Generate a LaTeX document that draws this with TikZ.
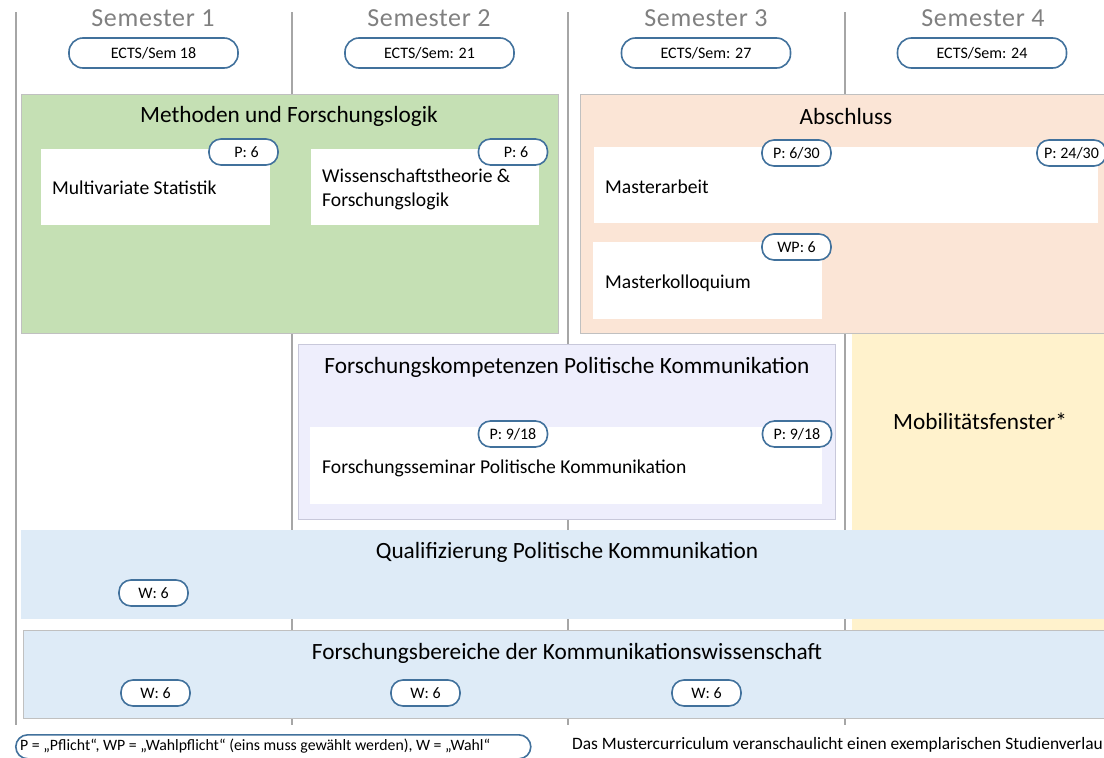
\documentclass[tikz,border=0pt]{standalone}
\usepackage{fontspec}
\setmainfont{Carlito}
\definecolor{linegray}{HTML}{A6A6A6}
\definecolor{bordergray}{HTML}{C0C0C0}
\definecolor{semgray}{HTML}{808080}
\definecolor{pillblue}{HTML}{41719C}
\definecolor{greenfill}{HTML}{C5E0B4}
\definecolor{peachfill}{HTML}{FBE5D6}
\definecolor{lavfill}{HTML}{EEEEFC}
\definecolor{lavborder}{HTML}{C8C8DA}
\definecolor{yellowfill}{HTML}{FFF2CC}
\definecolor{bluefill}{HTML}{DEEBF7}
\begin{document}
\begin{tikzpicture}[x=1pt,y=-1pt,
  vline/.style={draw=linegray, line width=1.8pt},
  area/.style={draw=bordergray, line width=0.8pt, anchor=north west, inner sep=0pt},
  wbox/.style={fill=white, anchor=north west, inner sep=0pt},
  pill/.style={draw=pillblue, line width=1.6pt, fill=white, rounded corners=12pt,
    minimum width=69pt, minimum height=26pt, inner sep=0pt, font=\fontsize{16}{18}\selectfont},
  ects/.style={pill, minimum width=169pt, minimum height=30pt, rounded corners=14pt},
  sem/.style={text=semgray, font=\fontsize{26}{30}\selectfont\addfontfeature{LetterSpace=2.5}, inner sep=0pt},
  ttl/.style={font=\fontsize{23.3}{27}\selectfont, inner sep=0pt},
  txt/.style={font=\fontsize{19.6}{24}\selectfont, anchor=west, inner sep=0pt, align=left}]
\useasboundingbox (0,0) rectangle (1104,758);
\clip (0,0) rectangle (1104,758);
\fill[white] (0,0) rectangle (1104,758);

% semester divider lines
\coordinate (v0t) at (16,12);  \coordinate (v0b) at (16,725);
\coordinate (v1t) at (292,12); \coordinate (v1b) at (292,725);
\coordinate (v2t) at (568,12); \coordinate (v2b) at (568,725);
\coordinate (v3t) at (845,12); \coordinate (v3b) at (845,725);
\draw[vline] (v0t) -- (v0b);
\draw[vline] (v1t) -- (v1b);
\draw[vline] (v2t) -- (v2b);
\draw[vline] (v3t) -- (v3b);

% semester headers
\node[sem] (s1) at (153,18) {Semester 1};
\node[sem] (s2) at (429,18) {Semester 2};
\node[sem] (s3) at (706,18) {Semester 3};
\node[sem] (s4) at (983,18) {Semester 4};
\node[ects] (e1) at (153.5,53) {ECTS/Sem 18};
\node[ects] (e2) at (429.5,53) {ECTS/Sem: 21};
\node[ects] (e3) at (706,53) {ECTS/Sem: 27};
\node[ects] (e4) at (982,53) {ECTS/Sem: 24};

% Methoden
\node[area, fill=greenfill, minimum width=537pt, minimum height=239pt] (meth) at (21,94) {};
\node[ttl] (methT) at (289,116) {Methoden und Forschungslogik};
\node[wbox, minimum width=229pt, minimum height=76pt] (mvs) at (41,149) {};
\node[txt] (mvsT) at (52,188) {Multivariate Statistik};
\node[pill] (mvsP) at (243.5,152) {\hspace*{6pt}P: 6};
\node[wbox, minimum width=228pt, minimum height=76pt] (wth) at (311,149) {};
\node[txt] (wthT) at (322,189) {Wissenschaftstheorie \&\\Forschungslogik};
\node[pill] (wthP) at (513,152) {\hspace*{6pt}P: 6};

% Mobilitaetsfenster (behind lower boxes)
\node[anchor=north west, fill=yellowfill, inner sep=0pt, minimum width=260pt, minimum height=297pt] (mob) at (852,333) {};
\node[ttl] (mobT) at (980,421) {Mobilitätsfenster*};

% Abschluss
\node[area, fill=peachfill, minimum width=540pt, minimum height=239pt] (absch) at (580,94) {};
\node[ttl] (abschT) at (846,116) {Abschluss};
\node[wbox, minimum width=504pt, minimum height=76pt] (ma) at (594,147) {};
\node[txt] (maT) at (605,187) {Masterarbeit};
\node[pill] (maP1) at (796.5,153) {P: 6/30};
\node[pill] (maP2) at (1071.5,153) {P: 24/30};
\node[wbox, minimum width=229pt, minimum height=77pt] (mk) at (593,242) {};
\node[txt] (mkT) at (605,283) {Masterkolloquium};
\node[pill] (mkP) at (796.5,247) {WP: 6};

% Forschungskompetenzen
\node[area, draw=lavborder, fill=lavfill, minimum width=537pt, minimum height=175pt] (fk) at (298,344) {};
\node[ttl] (fkT) at (567,367) {Forschungskompetenzen Politische Kommunikation};
\node[wbox, minimum width=512pt, minimum height=77pt] (fs) at (310,427) {};
\node[txt] (fsT) at (322,468) {Forschungsseminar Politische Kommunikation};
\node[pill] (fsP1) at (513,434) {P: 9/18};
\node[pill] (fsP2) at (797,434) {P: 9/18};

% Qualifizierung
\node[area, draw=bluefill, fill=bluefill, minimum width=1090pt, minimum height=88pt] (qpk) at (21,530) {};
\node[ttl] (qpkT) at (567,552) {Qualifizierung Politische Kommunikation};
\node[pill] (qpkP) at (153.5,593) {W: 6};

% Forschungsbereiche
\node[area, fill=bluefill, minimum width=1090pt, minimum height=88pt] (fb) at (23,630) {};
\node[ttl] (fbT) at (567,653) {Forschungsbereiche der Kommunikationswissenschaft};
\node[pill] (fbP1) at (155.5,693) {W: 6};
\node[pill] (fbP2) at (425.5,693) {W: 6};
\node[pill] (fbP3) at (706.5,693) {W: 6};

% legend and note
\node[pill, anchor=north west, minimum width=515pt, minimum height=24pt] (leg) at (15,734) {};
\node[anchor=west, inner sep=0pt, font=\fontsize{15.8}{18}\selectfont] (legT) at (20,746) {P = „Pflicht“, WP = „Wahlpflicht“ (eins muss gewählt werden), W = „Wahl“};
\node[anchor=west, inner sep=0pt, font=\fontsize{17.4}{20}\selectfont] (note) at (572,745) {Das Mustercurriculum veranschaulicht einen exemplarischen Studienverlau};
\end{tikzpicture}
\end{document}
